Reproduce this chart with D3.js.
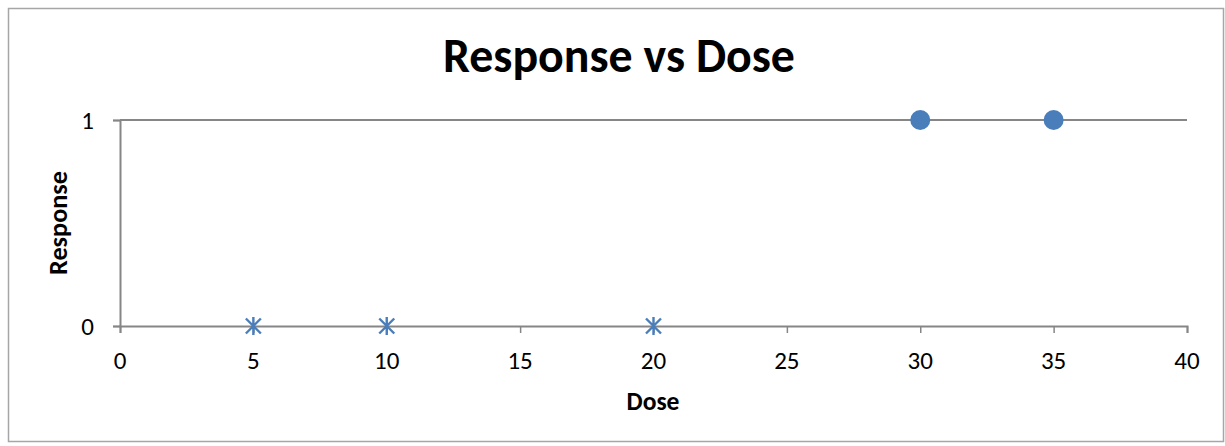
<!DOCTYPE html>
<html><head><meta charset="utf-8">
<script src="https://cdn.jsdelivr.net/npm/d3@7"></script>
<style>body{margin:0;background:#fff}svg{display:block}
.tl{font-family:Carlito,'Open Sans',sans-serif;fill:#000}</style>
</head><body>
<script>
const title = "Response vs Dose";
const xLabel = "Dose";
const yLabel = "Response";
const noResponseDose = [5, 10, 20];
const noResponseValue = [0, 0, 0];
const responseDose = [30, 35];
const responseValue = [1, 1];
const xTicks = [0, 5, 10, 15, 20, 25, 30, 35, 40];
const yTicks = [0, 1];

const W = 1225, H = 446;
const svg = d3.select("body").append("svg").attr("width", W).attr("height", H);
const font = "Carlito, 'Open Sans', 'Noto Sans', sans-serif";

svg.append("rect").attr("x", 8.5).attr("y", 8.5).attr("width", 1215).attr("height", 433)
  .attr("fill", "#fff").attr("stroke", "#a6a6a6").attr("stroke-width", 1.5);

const x = d3.scaleLinear().domain([0, 40]).range([120, 1187]);
const y = d3.scaleLinear().domain([0, 1]).range([326, 120]);
const axisColor = "#868686";

svg.append("g").selectAll("line").data(yTicks.filter(d => d !== 0)).join("line")
  .attr("x1", x(0)).attr("x2", x(40)).attr("y1", d => y(d)).attr("y2", d => y(d))
  .attr("stroke", axisColor).attr("stroke-width", 2);

const xAxis = svg.append("g").attr("transform", `translate(0,${y(0)})`)
  .call(d3.axisBottom(x).tickValues(xTicks).tickSize(7).tickFormat(""));
const yAxis = svg.append("g").attr("transform", `translate(${x(0)},0)`)
  .call(d3.axisLeft(y).tickValues(yTicks).tickSize(7).tickFormat(""));
[xAxis, yAxis].forEach(a => {
  a.select(".domain").attr("stroke", axisColor).attr("stroke-width", 2);
  a.selectAll(".tick line").attr("stroke", axisColor).attr("stroke-width", 1.5);
});
svg.append("g").selectAll("text").data(xTicks).join("text").attr("class", "tl")
  .attr("x", d => x(d)).attr("y", 369).attr("text-anchor", "middle")
  .style("font-size", "25px").text(d => d);
svg.append("g").selectAll("text").data(yTicks).join("text").attr("class", "tl")
  .attr("x", x(0) - 26).attr("y", d => y(d)).attr("dy", "0.34em").attr("text-anchor", "end")
  .style("font-size", "25px").text(d => d);

const col = "#4a7ebb";
const g0 = svg.append("g");
const pts0 = noResponseDose.map((d, i) => [x(d), y(noResponseValue[i])]);
const s = 9, sd = 7.5;
g0.selectAll("path").data(pts0).join("path")
  .attr("d", ([px, py]) => `M${px},${py - s}V${py + s}M${px - sd},${py - sd}L${px + sd},${py + sd}M${px - sd},${py + sd}L${px + sd},${py - sd}`)
  .attr("stroke", col).attr("stroke-width", 2.4).attr("fill", "none");
svg.append("g").selectAll("circle").data(responseDose.map((d, i) => [d, responseValue[i]])).join("circle")
  .attr("cx", d => x(d[0])).attr("cy", d => y(d[1])).attr("r", 10).attr("fill", col);

const t = svg.append("text").attr("x", 619).attr("y", 72).attr("text-anchor", "middle")
  .style("font-family", font).style("font-weight", "bold").style("font-size", "34px").text(title);
const tw = t.node().getComputedTextLength();
t.style("font-size", (34 * 352 / tw).toFixed(2) + "px");

const xl = svg.append("text").attr("x", 653).attr("y", 410).attr("text-anchor", "middle")
  .style("font-family", font).style("font-weight", "bold").style("font-size", "17px").text(xLabel);
const xw = xl.node().getComputedTextLength();
xl.style("font-size", (17 * 53 / xw).toFixed(2) + "px");
const yl = svg.append("text").attr("transform", "translate(67,223) rotate(-90)").attr("text-anchor", "middle")
  .style("font-family", font).style("font-weight", "bold").style("font-size", "17px").text(yLabel);
const yw = yl.node().getComputedTextLength();
yl.style("font-size", (17 * 104 / yw).toFixed(2) + "px");
</script>
</body></html>
